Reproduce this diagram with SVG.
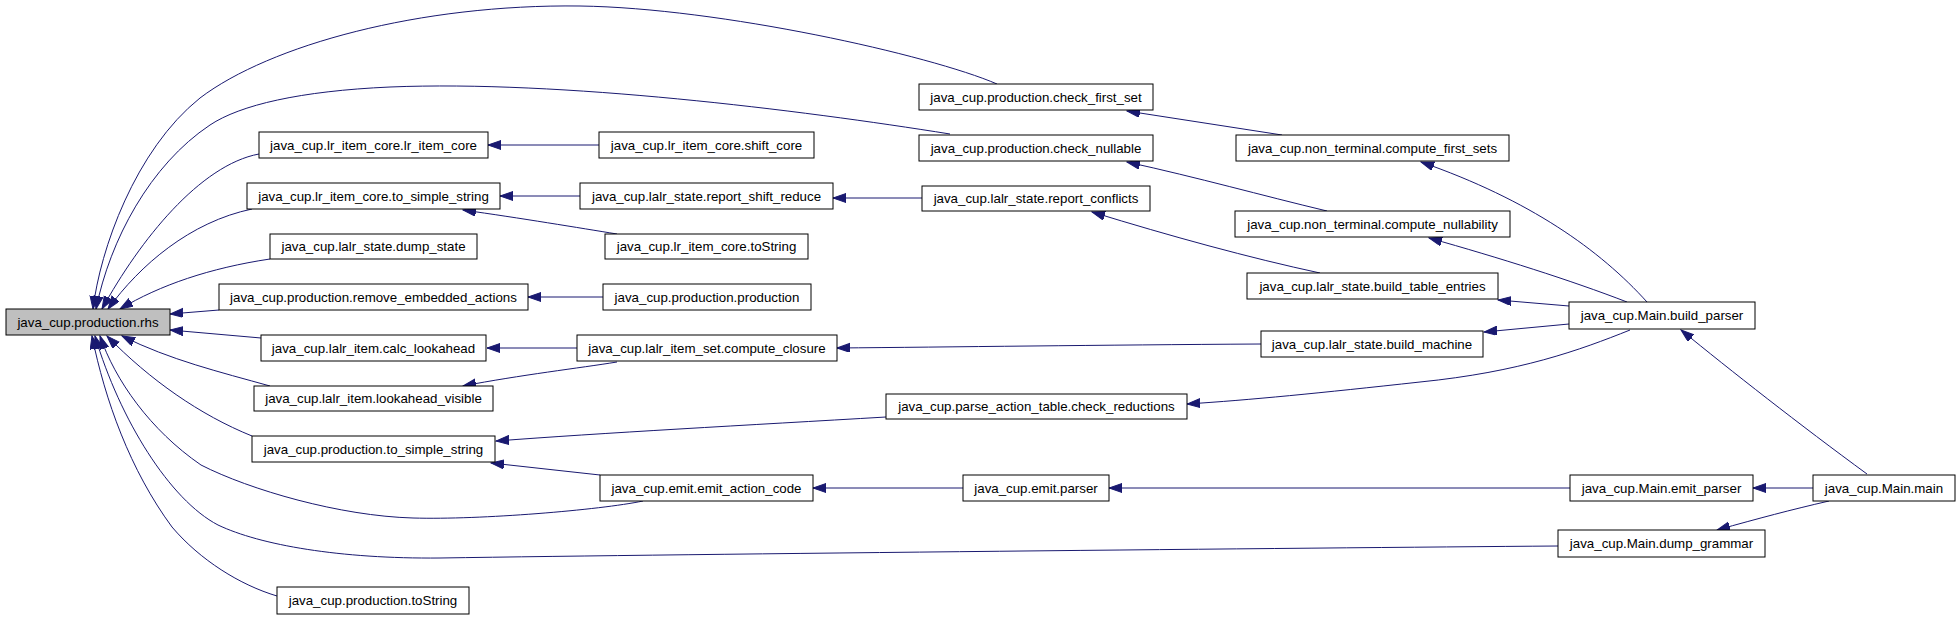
<svg xmlns="http://www.w3.org/2000/svg" width="1960" height="619" viewBox="0 0 1960 619">
<style>
.n rect{fill:#fff;stroke:#000;stroke-width:1}
.n.cur rect{fill:#bfbfbf}
.n text{font-family:"Liberation Sans",Arial,sans-serif;font-size:13.3px;fill:#000;text-anchor:middle}
.e path{fill:none;stroke:#191970;stroke-width:1;marker-end:url(#ah)}
</style>
<defs>
<marker id="ah" markerUnits="userSpaceOnUse" markerWidth="14" markerHeight="10" refX="13" refY="4.5" orient="auto">
<path d="M0,0 L13,4.5 L0,9 z" fill="#191970" stroke="#191970" stroke-width="1"/>
</marker>
</defs>
<rect width="1960" height="619" fill="#fff"/>
<g id="edges" class="e">
<path d="M997,84 C930,55 720,8 580,6 C420,4 270,45 200,98 C135,150 100,250 93,309"/>
<path d="M950,134 C800,110 560,80 390,87 C300,91 240,105 210,125 C150,165 110,240 96,309"/>
<path d="M259,154 C200,165 140,240 102,309"/>
<path d="M252,209 C190,222 140,265 108,309"/>
<path d="M270,259 C210,268 160,285 120,309"/>
<path d="M219,310 L170,314"/>
<path d="M261,338 L170,330"/>
<path d="M270,386 C220,372 170,360 122,336"/>
<path d="M252,436 C200,415 150,380 107,336"/>
<path d="M643,501 C600,510 480,520 413,518 C340,516 250,490 201,465 C150,430 115,380 100,336"/>
<path d="M1558,546 C1300,548 700,554 440,558 C340,559 260,545 218,525 C170,500 120,420 95,336"/>
<path d="M277,596 C240,585 200,560 172,527 C130,470 105,400 92,336"/>
<path d="M599,145 L488,145"/>
<path d="M580,196 L500,196"/>
<path d="M617,234 C580,228 520,218 463,210"/>
<path d="M922,198 L833,198"/>
<path d="M603,297 L528,297"/>
<path d="M577,348 L487,348"/>
<path d="M617,362 C580,368 520,375 463,386"/>
<path d="M1261,344 C1100,345 950,347 837,348"/>
<path d="M886,417 C750,425 600,433 496,441"/>
<path d="M600,475 L491,463"/>
<path d="M963,488 L813,488"/>
<path d="M1570,488 L1109,488"/>
<path d="M1813,488 L1753,488"/>
<path d="M1829,501 C1790,510 1760,518 1717,530"/>
<path d="M1867,474 C1800,425 1730,370 1681,330"/>
<path d="M1282,135 L1127,111"/>
<path d="M1327,211 C1260,195 1200,178 1127,162"/>
<path d="M1320,273 C1250,258 1170,236 1092,212"/>
<path d="M1647,302 C1600,250 1530,200 1421,162"/>
<path d="M1627,302 C1570,280 1500,258 1429,238"/>
<path d="M1569,306 L1498,300"/>
<path d="M1569,324 L1484,332"/>
<path d="M1630,330 C1580,350 1520,372 1420,382 C1320,393 1250,400 1187,404"/>
</g>
<g id="rhs" class="n cur"><rect x="6" y="309" width="164" height="26"/><text x="88" y="326.5">java_cup.production.rhs</text></g>
<g id="lr_item_core" class="n"><rect x="259" y="132" width="229" height="26"/><text x="373.5" y="149.5">java_cup.lr_item_core.lr_item_core</text></g>
<g id="lr_to_simple_string" class="n"><rect x="247" y="183" width="253" height="26"/><text x="373.5" y="200.5">java_cup.lr_item_core.to_simple_string</text></g>
<g id="dump_state" class="n"><rect x="270" y="234" width="207" height="25"/><text x="373.5" y="251">java_cup.lalr_state.dump_state</text></g>
<g id="remove_embedded_actions" class="n"><rect x="219" y="284" width="309" height="26"/><text x="373.5" y="301.5">java_cup.production.remove_embedded_actions</text></g>
<g id="calc_lookahead" class="n"><rect x="261" y="335" width="225" height="26"/><text x="373.5" y="352.5">java_cup.lalr_item.calc_lookahead</text></g>
<g id="lookahead_visible" class="n"><rect x="254" y="386" width="239" height="25"/><text x="373.5" y="403">java_cup.lalr_item.lookahead_visible</text></g>
<g id="prod_to_simple_string" class="n"><rect x="252" y="436" width="243" height="26"/><text x="373.5" y="453.5">java_cup.production.to_simple_string</text></g>
<g id="prod_toString" class="n"><rect x="277" y="587" width="192" height="27"/><text x="373" y="605">java_cup.production.toString</text></g>
<g id="shift_core" class="n"><rect x="599" y="132" width="215" height="26"/><text x="706.5" y="149.5">java_cup.lr_item_core.shift_core</text></g>
<g id="report_shift_reduce" class="n"><rect x="580" y="183" width="253" height="26"/><text x="706.5" y="200.5">java_cup.lalr_state.report_shift_reduce</text></g>
<g id="lr_toString" class="n"><rect x="605" y="234" width="203" height="25"/><text x="706.5" y="251">java_cup.lr_item_core.toString</text></g>
<g id="production" class="n"><rect x="603" y="284" width="208" height="26"/><text x="707" y="301.5">java_cup.production.production</text></g>
<g id="compute_closure" class="n"><rect x="577" y="335" width="260" height="26"/><text x="707" y="352.5">java_cup.lalr_item_set.compute_closure</text></g>
<g id="emit_action_code" class="n"><rect x="600" y="475" width="213" height="26"/><text x="706.5" y="492.5">java_cup.emit.emit_action_code</text></g>
<g id="check_first_set" class="n"><rect x="919" y="84" width="234" height="26"/><text x="1036" y="101.5">java_cup.production.check_first_set</text></g>
<g id="check_nullable" class="n"><rect x="919" y="135" width="234" height="26"/><text x="1036" y="152.5">java_cup.production.check_nullable</text></g>
<g id="report_conflicts" class="n"><rect x="922" y="186" width="228" height="25"/><text x="1036" y="203">java_cup.lalr_state.report_conflicts</text></g>
<g id="check_reductions" class="n"><rect x="886" y="394" width="301" height="25"/><text x="1036.5" y="411">java_cup.parse_action_table.check_reductions</text></g>
<g id="emit_parser_fn" class="n"><rect x="963" y="475" width="146" height="26"/><text x="1036" y="492.5">java_cup.emit.parser</text></g>
<g id="compute_first_sets" class="n"><rect x="1236" y="135" width="273" height="26"/><text x="1372.5" y="152.5">java_cup.non_terminal.compute_first_sets</text></g>
<g id="compute_nullability" class="n"><rect x="1235" y="211" width="275" height="26"/><text x="1372.5" y="228.5">java_cup.non_terminal.compute_nullability</text></g>
<g id="build_table_entries" class="n"><rect x="1247" y="273" width="251" height="26"/><text x="1372.5" y="290.5">java_cup.lalr_state.build_table_entries</text></g>
<g id="build_machine" class="n"><rect x="1261" y="331" width="222" height="26"/><text x="1372" y="348.5">java_cup.lalr_state.build_machine</text></g>
<g id="build_parser" class="n"><rect x="1569" y="302" width="186" height="27"/><text x="1662" y="320">java_cup.Main.build_parser</text></g>
<g id="main_emit_parser" class="n"><rect x="1570" y="475" width="183" height="26"/><text x="1661.5" y="492.5">java_cup.Main.emit_parser</text></g>
<g id="dump_grammar" class="n"><rect x="1558" y="530" width="207" height="27"/><text x="1661.5" y="548">java_cup.Main.dump_grammar</text></g>
<g id="main" class="n"><rect x="1813" y="475" width="142" height="26"/><text x="1884" y="492.5">java_cup.Main.main</text></g>
</svg>
